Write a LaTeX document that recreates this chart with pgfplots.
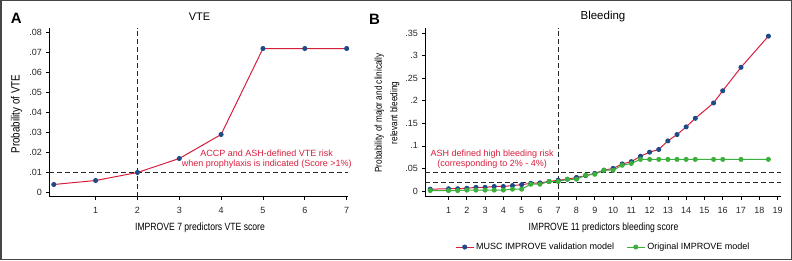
\documentclass[border=0pt]{standalone}
\usepackage{fontspec}
\setmainfont{Liberation Sans}
\newfontfamily\narrowfont[FakeStretch=0.82]{Liberation Sans}
\usepackage{pgfplots}
\pgfplotsset{compat=1.18}
\definecolor{cred}{RGB}{215,30,60}
\definecolor{cblue}{RGB}{30,75,135}
\definecolor{cgreen}{RGB}{60,175,60}
\definecolor{cframe}{RGB}{70,70,70}
\pgfplotsset{stata/.style={
  scale only axis,
  axis x line*=bottom, axis y line*=left,
  axis line style={-, line width=0.9pt, black},
  tick align=outside, major tick length=3pt,
  tick style={black, line width=0.7pt},
  scaled y ticks=false, scaled x ticks=false,
  /pgf/number format/assume math mode=true,
  ticklabel style={font=\fontsize{9}{10}\selectfont, text=black!85},
  xticklabel style={yshift=-4pt},
  yticklabel style={xshift=-1pt},
  clip=false,
}}
\begin{document}
\begin{tikzpicture}
% ---------------- Panel A ----------------
\begin{axis}[stata, at={(49.3pt,63.5pt)}, anchor=south west,
  width=299pt, height=168.5pt,
  xmin=-0.107, xmax=7.04, ymin=-0.002, ymax=0.08225,
  xtick={1,2,3,4,5,6,7},
  ytick={0,0.01,0.02,0.03,0.04,0.05,0.06,0.07,0.08},
  yticklabels={0,.01,.02,.03,.04,.05,.06,.07,.08}]
\addplot[black!85, line width=0.9pt, dash pattern=on 5pt off 3pt] coordinates {(2,-0.002) (2,0.08225)};
\addplot[black!85, line width=0.9pt, dash pattern=on 5pt off 3pt] coordinates {(-0.107,0.01) (7.04,0.01)};
\addplot[cred, line width=1pt, mark=*, mark size=2pt, mark options={draw=cblue, fill=cblue}]
  coordinates {(0,0.004) (1,0.006) (2,0.010) (3,0.017) (4,0.029) (5,0.072) (6,0.072) (7,0.072)};
\node[text=cred, align=center, font=\fontsize{9}{10}\selectfont] at (axis cs:5.09,0.0166)
  {ACCP and ASH-defined VTE risk\\when prophylaxis is indicated (Score >1\%)};
\end{axis}
% ---------------- Panel B ----------------
\begin{axis}[stata, at={(425.3pt,63.5pt)}, anchor=south west,
  width=355.9pt, height=168.5pt,
  xmin=-0.27, xmax=19.2, ymin=-0.0122, ymax=0.3611,
  xtick={1,2,3,4,5,6,7,8,9,10,11,12,13,14,15,16,17,18,19},
  ytick={0,0.05,0.1,0.15,0.2,0.25,0.3,0.35},
  yticklabels={0,.05,.1,.15,.2,.25,.3,.35},
  legend style={at={(0.5,-0.30)}, anchor=center, draw=none, fill=none,
    legend columns=2, font=\fontsize{9}{10}\selectfont,
    /tikz/every even column/.append style={column sep=10pt}},
  legend image code/.code={\draw[mark repeat=2,mark phase=2,#1] plot coordinates {(0pt,0pt) (9pt,0pt) (18pt,0pt)};}]
\addplot[black!85, line width=0.9pt, dash pattern=on 5pt off 3pt, forget plot] coordinates {(7,-0.0122) (7,0.3611)};
\addplot[black!85, line width=0.9pt, dash pattern=on 5pt off 3pt, forget plot] coordinates {(-0.27,0.02) (19.2,0.02)};
\addplot[black!85, line width=0.9pt, dash pattern=on 5pt off 3pt, forget plot] coordinates {(-0.27,0.04) (19.2,0.04)};
\addplot[cred, line width=1pt, mark=*, mark size=2pt, mark options={draw=cblue, fill=cblue}]
  coordinates {(0,0.004) (1,0.005) (1.5,0.005) (2,0.006) (2.5,0.008) (3,0.008) (3.5,0.010) (4,0.010)
  (4.5,0.012) (5,0.014) (5.5,0.017) (6,0.018) (6.5,0.021) (7,0.024) (7.5,0.026) (8,0.030)
  (8.5,0.034) (9,0.039) (9.5,0.046) (10,0.050) (10.5,0.060) (11,0.065) (11.5,0.077) (12,0.086)
  (12.5,0.092) (13,0.111) (13.5,0.125) (14,0.142) (14.5,0.161) (15.5,0.195) (16,0.222) (17,0.274) (18.5,0.343)};
\addlegendentry{MUSC IMPROVE validation model}
\addplot[cgreen, line width=1pt, mark=*, mark size=2pt, mark options={draw=cgreen, fill=cgreen}]
  coordinates {(0,0.001) (1,0.001) (1.5,0.001) (2,0.002) (2.5,0.002) (3,0.002) (3.5,0.002) (4,0.002)
  (4.5,0.004) (5,0.004) (5.5,0.015) (6,0.015) (6.5,0.021) (7,0.021) (7.5,0.026) (8,0.026)
  (8.5,0.035) (9,0.037) (9.5,0.046) (10,0.046) (10.5,0.057) (11,0.061) (11.5,0.070) (12,0.070)
  (12.5,0.070) (13,0.070) (13.5,0.070) (14,0.070) (14.5,0.070) (15.5,0.070) (16,0.070) (17,0.070) (18.5,0.070)};
\addlegendentry{Original IMPROVE model}
\node[text=cred, align=center, font=\fontsize{9}{10}\selectfont] at (axis cs:3.39,0.0704)
  {ASH defined high bleeding risk\\(corresponding to 2\% - 4\%)};
\end{axis}
% ---------------- Texts ----------------
\node[font=\fontsize{11}{13}\selectfont, anchor=base] at (199.5pt,239.3pt) {VTE};
\node[font=\fontsize{11.5}{13}\selectfont, anchor=base] at (603pt,240pt) {Bleeding};
\node[font=\bfseries\fontsize{15}{17}\selectfont] at (16.2pt,241.5pt) {A};
\node[font=\bfseries\fontsize{15}{17}\selectfont] at (374.5pt,240.5pt) {B};
\node[font=\narrowfont\fontsize{10.5}{12}\selectfont, anchor=base] at (200pt,30pt) {IMPROVE 7 predictors VTE score};
\node[font=\narrowfont\fontsize{10.5}{12}\selectfont, anchor=base] at (603.5pt,30pt) {IMPROVE 11 predictors bleeding score};
\node[font=\narrowfont\fontsize{12}{14}\selectfont, rotate=90] at (16.5pt,146pt) {Probability of VTE};
\node[font=\narrowfont\fontsize{10}{15.5}\selectfont, rotate=90, align=center] at (387pt,147pt)
  {Probability of major and clinically\\relevant bleeding};
% frame
\draw[cframe, line width=1.5pt] (0.75pt,0.75pt) rectangle (791.25pt,259.25pt);
\pgfresetboundingbox
\useasboundingbox (0,0) rectangle (792pt,260pt);
\end{tikzpicture}
\end{document}
